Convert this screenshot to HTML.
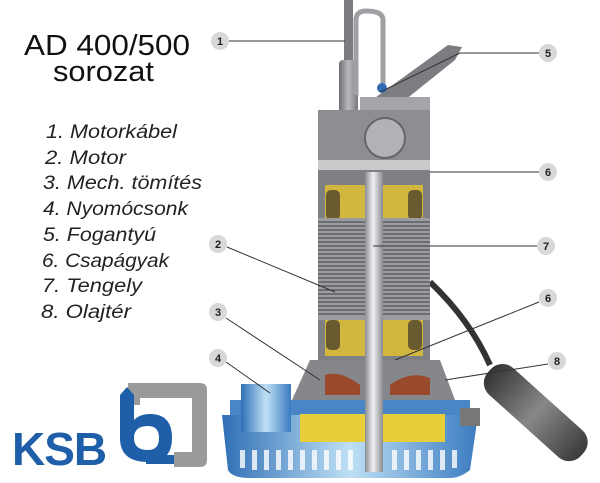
<!DOCTYPE html>
<html><head><meta charset="utf-8"><style>
html,body{margin:0;padding:0;background:#fff}
svg{display:block}
</style></head><body>
<svg width="600" height="483" viewBox="0 0 600 483" xmlns="http://www.w3.org/2000/svg" font-family="Liberation Sans, sans-serif">
<defs>
<linearGradient id="metal" x1="0" x2="1"><stop offset="0" stop-color="#6d6f72"/><stop offset="0.5" stop-color="#b9bbbe"/><stop offset="1" stop-color="#77797c"/></linearGradient>
<linearGradient id="shaft" x1="0" x2="1"><stop offset="0" stop-color="#8a8c90"/><stop offset="0.45" stop-color="#eef0f2"/><stop offset="1" stop-color="#8a8c90"/></linearGradient>
<linearGradient id="blue" x1="0" x2="1"><stop offset="0" stop-color="#2f6fb5"/><stop offset="0.5" stop-color="#bfe0f5"/><stop offset="1" stop-color="#3a7bc0"/></linearGradient>
<linearGradient id="float" x1="0" x2="1"><stop offset="0" stop-color="#333"/><stop offset="0.5" stop-color="#888"/><stop offset="1" stop-color="#3a3a3a"/></linearGradient>
</defs>
<text x="24" y="55" font-size="29" fill="#111" textLength="166" lengthAdjust="spacingAndGlyphs">AD 400/500</text>
<text x="53" y="81" font-size="29" fill="#111" textLength="101" lengthAdjust="spacingAndGlyphs">sorozat</text>
<g font-size="19" font-style="italic" fill="#222" lengthAdjust="spacingAndGlyphs">
<text x="46" y="138" textLength="131" lengthAdjust="spacingAndGlyphs">1. Motorkábel</text>
<text x="45" y="164" textLength="81" lengthAdjust="spacingAndGlyphs">2. Motor</text>
<text x="43" y="189" textLength="159" lengthAdjust="spacingAndGlyphs">3. Mech. tömítés</text>
<text x="43" y="215" textLength="145" lengthAdjust="spacingAndGlyphs">4. Nyomócsonk</text>
<text x="43" y="241" textLength="113" lengthAdjust="spacingAndGlyphs">5. Fogantyú</text>
<text x="42" y="267" textLength="127" lengthAdjust="spacingAndGlyphs">6. Csapágyak</text>
<text x="42" y="292" textLength="100" lengthAdjust="spacingAndGlyphs">7. Tengely</text>
<text x="41" y="318" textLength="90" lengthAdjust="spacingAndGlyphs">8. Olajtér</text>
</g>
<text x="12" y="465" font-size="46" font-weight="bold" fill="#1f5ea8" letter-spacing="-1">KSB</text>
<path d="M128 383 H200 Q207 383 207 390 V460 Q207 467 200 467 H174 V452 H192 V398 H140 V405 H128 Z" fill="#9a9a9a"/>
<path d="M120 395 L127 387 L134 395 V420 Q140 414 150 414 Q172 414 172 438 Q172 462 148 462 Q120 462 120 438 Z M134 438 Q134 450 148 450 Q159 450 159 438 Q159 426 148 426 Q134 426 134 438 Z" fill="#1f5ea8" fill-rule="evenodd"/>
<rect x="146" y="455" width="28" height="9" fill="#1f5ea8"/>
<path d="M430 282 Q470 320 490 365" stroke="#333" stroke-width="6" fill="none"/>
<g transform="translate(490,370) rotate(42)"><rect x="0" y="-17" width="125" height="36" rx="16" fill="url(#float)"/></g>
<rect x="344" y="0" width="9" height="75" fill="#7a7c80"/>
<rect x="339" y="60" width="19" height="65" rx="4" fill="url(#metal)"/>
<path d="M356 95 V20 Q356 11 366 11 Q383 11 383 20 V92" stroke="#9ea0a3" stroke-width="5" fill="none"/>
<path d="M372 100 L448 45 L462 47 L455 60 L405 100 Z" fill="#7b7d80"/>
<circle cx="382" cy="88" r="5" fill="#2e6cb3"/>
<rect x="318" y="110" width="112" height="55" fill="#8c8e91"/>
<rect x="360" y="97" width="70" height="13" fill="#a3a5a8"/>
<circle cx="385" cy="138" r="20" fill="#b0b2b5" stroke="#666" stroke-width="2"/>
<rect x="318" y="160" width="112" height="10" fill="#c8cacc"/>
<rect x="318" y="170" width="112" height="190" fill="#7e8083"/>
<rect x="325" y="185" width="98" height="35" fill="#d1b640"/>
<rect x="325" y="318" width="98" height="38" fill="#d1b640"/>
<rect x="326" y="190" width="14" height="30" rx="5" fill="#6a5a30"/>
<rect x="408" y="190" width="14" height="30" rx="5" fill="#6a5a30"/>
<rect x="326" y="320" width="14" height="30" rx="5" fill="#6a5a30"/>
<rect x="408" y="320" width="14" height="30" rx="5" fill="#6a5a30"/>
<rect x="318" y="218" width="112" height="102" fill="#9a9c9f"/>
<g stroke="#3d3e40" stroke-width="1">
<path d="M318 222H430M318 226H430M318 230H430M318 234H430M318 238H430M318 242H430M318 246H430M318 250H430M318 254H430M318 258H430M318 262H430M318 266H430M318 270H430M318 274H430M318 278H430M318 282H430M318 286H430M318 290H430M318 294H430M318 298H430M318 302H430M318 306H430M318 310H430M318 314H430"/>
</g>
<path d="M310 360 H440 L455 400 H292 Z" fill="#85878a"/>
<path d="M325 375 Q340 370 360 385 V395 H325 Z M390 385 Q410 370 430 378 V395 H390 Z" fill="#9a4a2a"/>
<path d="M222 415 H478 L470 470 Q460 478 450 478 H250 Q232 478 228 470 Z" fill="url(#blue)"/>
<rect x="230" y="400" width="240" height="15" fill="#4a86c6"/>
<rect x="300" y="414" width="145" height="28" fill="#e8cf3a"/>
<g fill="#ffffff" opacity="0.8">
<rect x="240" y="450" width="5" height="18"/><rect x="252" y="450" width="5" height="20"/><rect x="264" y="450" width="5" height="20"/><rect x="276" y="450" width="5" height="20"/><rect x="288" y="450" width="5" height="20"/><rect x="300" y="450" width="5" height="20"/><rect x="312" y="450" width="5" height="20"/><rect x="324" y="450" width="5" height="20"/><rect x="336" y="450" width="5" height="20"/><rect x="348" y="450" width="5" height="20"/><rect x="392" y="450" width="5" height="20"/><rect x="404" y="450" width="5" height="20"/><rect x="416" y="450" width="5" height="20"/><rect x="428" y="450" width="5" height="20"/><rect x="440" y="450" width="5" height="20"/><rect x="452" y="450" width="5" height="18"/>
</g>
<rect x="460" y="408" width="20" height="18" fill="#777"/>
<rect x="241" y="384" width="50" height="48" fill="url(#blue)"/>
<rect x="365" y="172" width="18" height="300" fill="url(#shaft)"/>
<g stroke="#333" stroke-width="1" fill="none">
<path d="M229 41 H345"/><path d="M539 53 H460 L380 92"/><path d="M539 172 H430"/><path d="M537 246 H373"/>
<path d="M227 247 L335 292"/><path d="M226 318 L320 380"/><path d="M539 302 L395 360"/><path d="M226 362 L270 393"/><path d="M548 364 L445 380"/>
</g>
<g font-size="11" font-weight="bold" fill="#222" text-anchor="middle">
<circle cx="220" cy="41" r="9" fill="#d8d8d8"/><text x="220" y="45">1</text>
<circle cx="548" cy="53" r="9" fill="#d8d8d8"/><text x="548" y="57">5</text>
<circle cx="548" cy="172" r="9" fill="#d8d8d8"/><text x="548" y="176">6</text>
<circle cx="546" cy="246" r="9" fill="#d8d8d8"/><text x="546" y="250">7</text>
<circle cx="218" cy="244" r="9" fill="#d8d8d8"/><text x="218" y="248">2</text>
<circle cx="218" cy="312" r="9" fill="#d8d8d8"/><text x="218" y="316">3</text>
<circle cx="548" cy="298" r="9" fill="#d8d8d8"/><text x="548" y="302">6</text>
<circle cx="218" cy="358" r="9" fill="#d8d8d8"/><text x="218" y="362">4</text>
<circle cx="557" cy="361" r="9" fill="#d8d8d8"/><text x="557" y="365">8</text>
</g>
</svg>
</body></html>
